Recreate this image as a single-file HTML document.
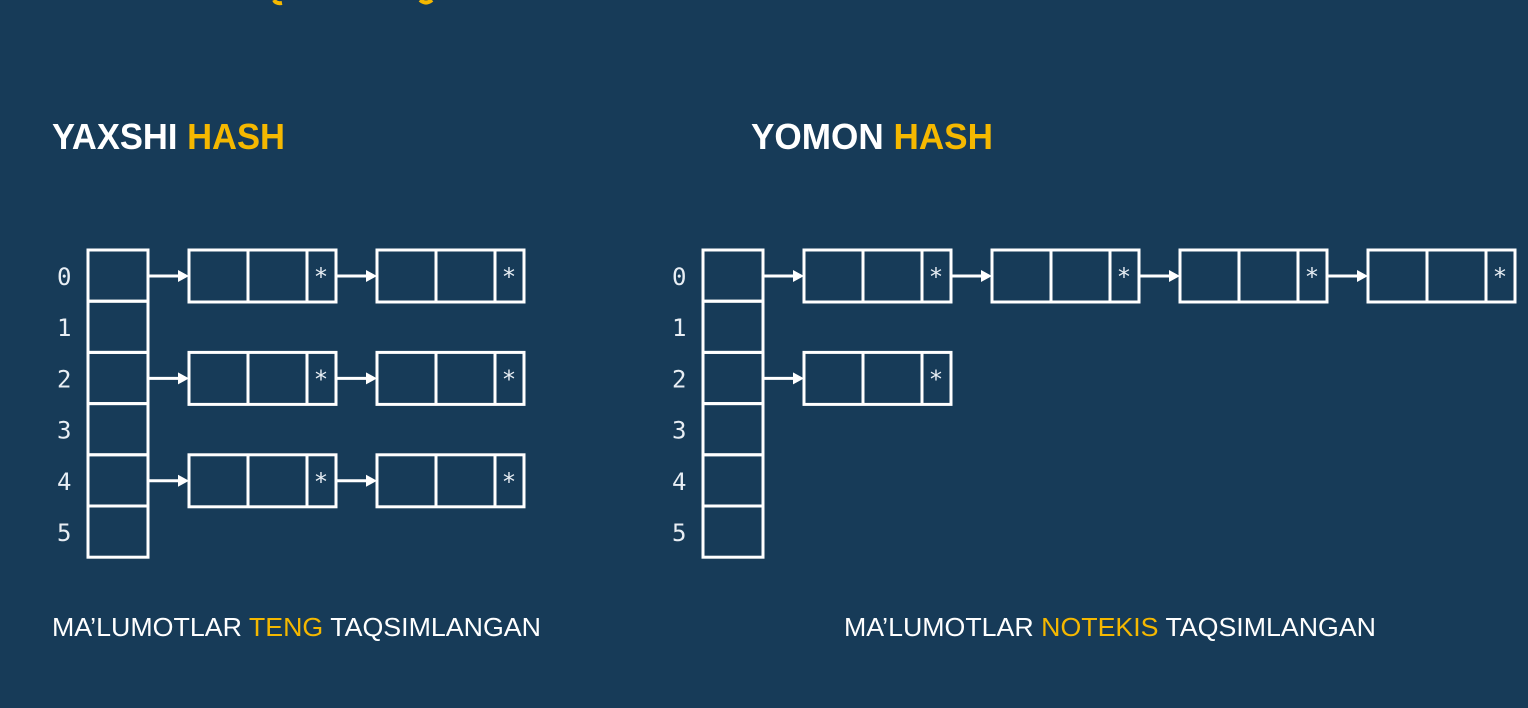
<!DOCTYPE html>
<html><head><meta charset="utf-8"><style>
html,body{margin:0;padding:0;background:#173b58;}
svg{display:block;}
</style></head><body>
<svg id="s" width="1528" height="708" xmlns="http://www.w3.org/2000/svg">
<rect width="1528" height="708" fill="#173b58"/>
<path d="M274 0 q2 4 8 3" stroke="#f5b800" stroke-width="4" fill="none"/>
<path d="M420 0 q6 5 12 0" stroke="#f5b800" stroke-width="4" fill="none"/>
<text x="52" y="149" font-family="'Liberation Sans Narrow','Liberation Sans',sans-serif" font-weight="bold" font-size="36" fill="#fff" textLength="233" lengthAdjust="spacingAndGlyphs">YAXSHI <tspan fill="#f5b800">HASH</tspan></text>
<text x="751" y="149" font-family="'Liberation Sans Narrow','Liberation Sans',sans-serif" font-weight="bold" font-size="36" fill="#fff" textLength="242" lengthAdjust="spacingAndGlyphs">YOMON <tspan fill="#f5b800">HASH</tspan></text>
<text x="52" y="636" font-family="'Liberation Sans Narrow','Liberation Sans',sans-serif" font-size="26" fill="#fff" textLength="489" lengthAdjust="spacingAndGlyphs">MA’LUMOTLAR <tspan fill="#f5b800">TENG</tspan> TAQSIMLANGAN</text>
<text x="844" y="636" font-family="'Liberation Sans Narrow','Liberation Sans',sans-serif" font-size="26" fill="#fff" textLength="532" lengthAdjust="spacingAndGlyphs">MA’LUMOTLAR <tspan fill="#f5b800">NOTEKIS</tspan> TAQSIMLANGAN</text>
<g id="diag"></g>
</svg>
<script>
const buckets = ["0","1","2","3","4","5"];
const goodChain = [2,0,2,0,2,0];
const badChain = [4,0,1,0,0,0];
const NS="http://www.w3.org/2000/svg";
const g=document.getElementById('diag');
function mk(tag,attrs){const e=document.createElementNS(NS,tag);for(const k in attrs)e.setAttribute(k,attrs[k]);g.appendChild(e);return e;}
const rowY=i=>250+i*51.2;
function draw(x0,labX,chains,prefix){
  buckets.forEach((b,i)=>{
    const y=rowY(i);
    const c=mk('rect',{x:x0,y:y,width:60,height:51.2,fill:'none',stroke:'#fff','stroke-width':3});
    
    
    const t=mk('text',{x:labX,y:y+35,'font-family':"'DejaVu Sans Mono','Liberation Mono',monospace",'font-size':24,fill:'#e8eef4'});
    t.textContent=b;
    
    
    for(let k=0;k<chains[i];k++){
      const nx=x0+101+k*188, cy=y+26;
      const ax=k===0?x0+60:nx-41;
      const ln=mk('line',{x1:ax,y1:cy,x2:nx-10,y2:cy,stroke:'#fff','stroke-width':3});
      
      
      const hd=mk('polygon',{points:`${nx-11},${cy-6} ${nx},${cy} ${nx-11},${cy+6}`,fill:'#fff'});
      
      
      const nd=mk('rect',{x:nx,y:y,width:147,height:52,fill:'none',stroke:'#fff','stroke-width':3});
      
      
      [59,118].forEach(d=>{const l=mk('line',{x1:nx+d,y1:y,x2:nx+d,y2:y+52,stroke:'#fff','stroke-width':3});
        
        });
      const st=mk('text',{x:nx+132,y:y+35,'text-anchor':'middle','font-family':"'DejaVu Sans Mono',monospace",'font-size':24,fill:'#e8eef4'});
      st.textContent='*';
      
      
    }
  });
}
draw(88,57,goodChain,'good');
draw(703,672,badChain,'bad');
</script>
</body></html>
